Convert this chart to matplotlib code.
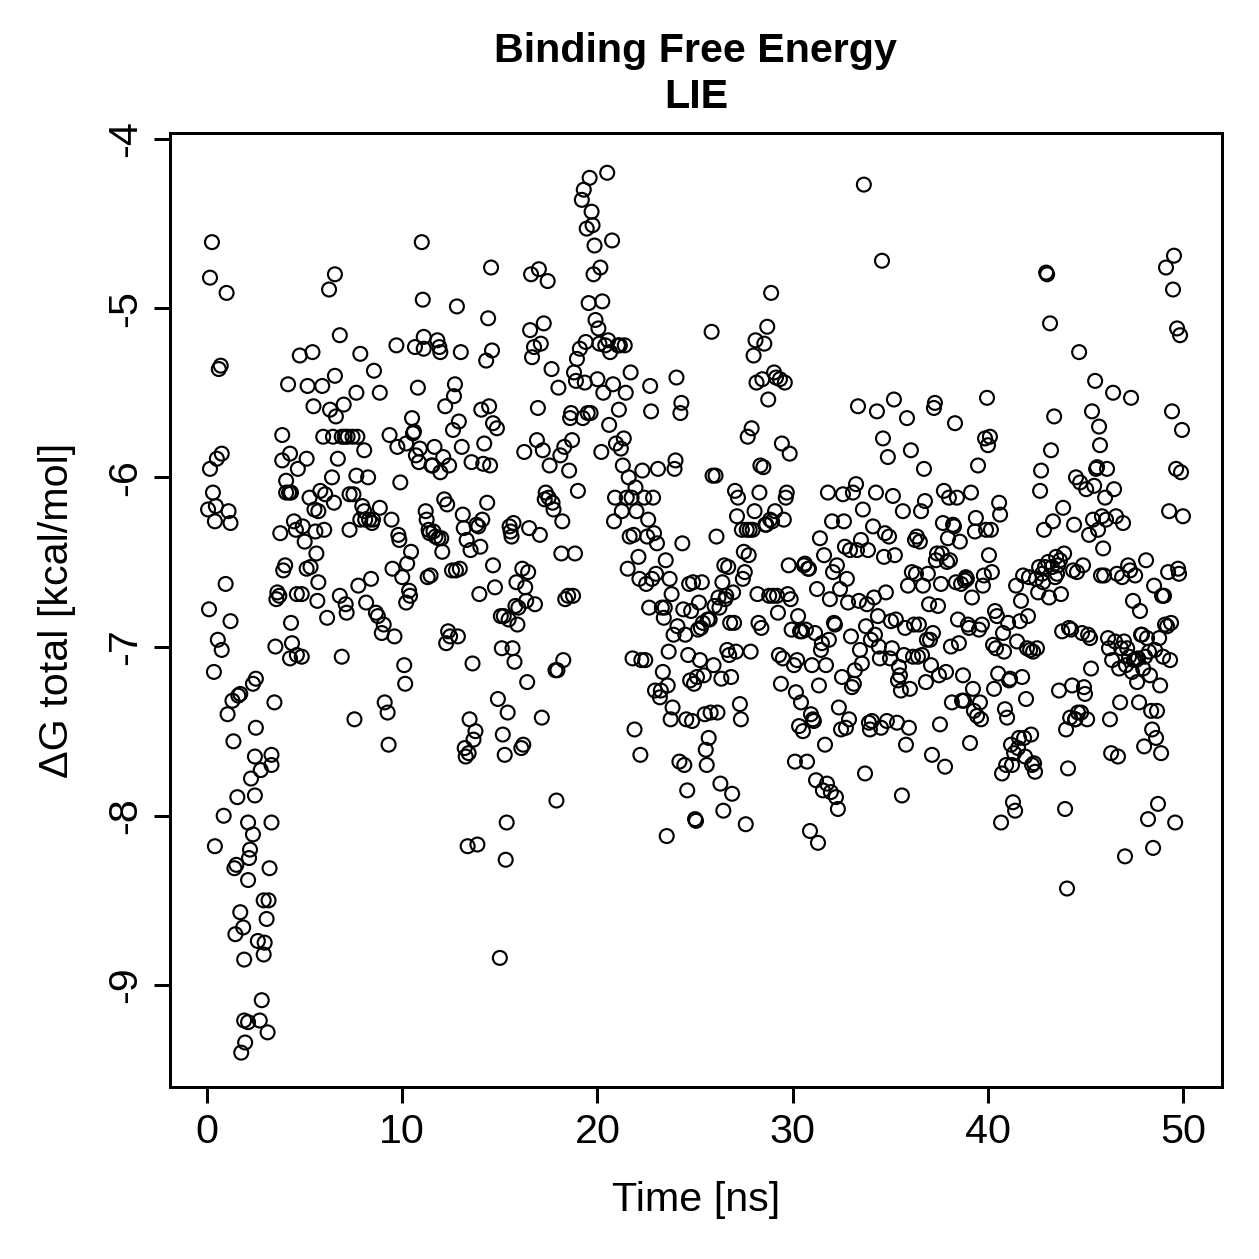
import matplotlib
matplotlib.use("Agg")
import matplotlib.pyplot as plt
import numpy as np

plt.rcParams['font.family'] = ['Liberation Sans', 'DejaVu Sans']

# ---- data: time [ns] and total binding free energy [kcal/mol] ----
t_00_10 = [
    0.15, 0.25, 0.15, 0.05, 0.10, 0.30, 0.35, 0.40, 0.45, 0.55,
    0.60, 0.70, 0.50, 0.75, 0.75, 0.40, 0.85, 0.95, 1.00, 1.05,
    1.10, 1.20, 1.20, 1.30, 1.35, 1.40, 1.50, 1.60, 1.70, 1.55,
    1.45, 1.70, 1.85, 1.75, 1.90, 1.95, 1.90, 2.10, 2.15, 2.10,
    2.20, 2.10, 2.25, 2.35, 2.35, 2.50, 2.45, 2.50, 2.45, 2.60,
    2.70, 2.75, 2.80, 2.90, 2.90, 2.95, 3.05, 3.10, 3.15, 3.20,
    3.30, 3.30, 3.30, 3.45, 3.50, 3.55, 3.60, 3.70, 3.75, 3.85,
    3.85, 3.90, 4.00, 4.05, 4.05, 4.15, 4.20, 4.30, 4.25, 4.30,
    4.25, 4.35, 4.45, 4.55, 4.60, 4.60, 4.65, 4.75, 4.85, 4.85,
    4.90, 5.00, 5.10, 5.10, 5.15, 5.25, 5.30, 5.40, 5.45, 5.50,
    5.55, 5.60, 5.65, 5.70, 5.70, 5.80, 5.90, 5.95, 6.00, 6.05,
    6.15, 6.25, 6.30, 6.40, 6.45, 6.50, 6.55, 6.55, 6.60, 6.70,
    6.80, 6.80, 6.90, 6.90, 7.00, 7.05, 7.10, 7.15, 7.20, 7.30,
    7.30, 7.45, 7.50, 7.55, 7.65, 7.65, 7.70, 7.75, 7.85, 7.85,
    7.95, 8.05, 8.05, 8.10, 8.15, 8.25, 8.30, 8.40, 8.45, 8.50,
    8.55, 8.65, 8.75, 8.85, 8.85, 8.95, 9.05, 9.10, 9.25, 9.30,
    9.35, 9.45, 9.50, 9.60, 9.70, 9.75, 9.80, 9.85, 9.90,
]
g_00_10 = [
    -4.82, -4.61, -5.95, -6.19, -6.78, -6.09, -7.15, -6.26, -6.17, -6.96,
    -5.36, -5.34, -5.89, -5.86, -7.02, -8.18, -8.00, -6.63, -4.91, -7.40,
    -6.20, -6.27, -6.85, -7.32, -7.56, -8.31, -8.29, -7.29, -7.28, -7.89,
    -8.70, -8.57, -8.66, -9.40, -8.85, -9.34, -9.21, -9.22, -8.25, -8.04,
    -8.20, -8.38, -7.78, -8.11, -7.22, -7.19, -7.65, -7.48, -7.88, -8.74,
    -9.21, -7.73, -9.09, -8.82, -8.50, -8.75, -8.61, -9.28, -8.50, -8.31,
    -7.70, -8.04, -7.64, -7.33, -7.00, -6.72, -6.68, -6.70, -6.33, -5.90,
    -5.75, -6.55, -6.52, -6.02, -6.09, -5.45, -6.09, -6.09, -5.86, -6.86,
    -7.07, -6.98, -6.26, -6.31, -6.69, -7.05, -5.95, -5.28, -6.69, -7.06,
    -6.29, -6.38, -6.54, -5.89, -5.46, -6.12, -6.53, -5.26, -5.58, -6.19,
    -6.32, -6.45, -6.73, -6.20, -6.62, -6.08, -5.46, -5.76, -6.31, -6.10,
    -6.83, -4.89, -5.60, -6.00, -5.76, -6.15, -4.80, -5.40, -5.64, -5.89,
    -5.16, -6.70, -7.06, -5.76, -5.57, -5.76, -6.75, -6.80, -5.76, -6.31,
    -6.10, -5.76, -6.10, -7.43, -5.99, -5.50, -5.76, -6.64, -5.27, -6.25,
    -6.17, -5.84, -6.20, -6.25, -6.74, -6.00, -6.25, -6.60, -6.27, -6.25,
    -5.37, -6.80, -6.82, -5.50, -6.18, -6.92, -6.87, -7.33, -7.39, -7.58,
    -5.75, -6.25, -6.54, -6.94, -5.22, -5.82, -6.34, -6.37, -6.03,
]

t_10_20 = [
    10.00, 10.10, 10.15, 10.20, 10.20, 10.25, 10.35, 10.40, 10.45, 10.50,
    10.55, 10.60, 10.65, 10.70, 10.80, 10.85, 10.90, 11.00, 11.05, 11.10,
    11.10, 11.20, 11.25, 11.30, 11.35, 11.40, 11.45, 11.50, 11.55, 11.60,
    11.65, 11.70, 11.80, 11.85, 11.90, 11.95, 11.95, 12.00, 12.05, 12.10,
    12.15, 12.20, 12.25, 12.30, 12.35, 12.40, 12.45, 12.55, 12.60, 12.65,
    12.70, 12.75, 12.80, 12.85, 12.90, 12.95, 13.00, 13.05, 13.10, 13.15,
    13.20, 13.25, 13.30, 13.35, 13.40, 13.45, 13.50, 13.55, 13.60, 13.65,
    13.75, 13.80, 13.85, 13.90, 13.95, 14.00, 14.05, 14.10, 14.15, 14.20,
    14.30, 14.35, 14.40, 14.45, 14.50, 14.55, 14.60, 14.65, 14.65, 14.75,
    14.85, 14.90, 15.00, 15.05, 15.10, 15.15, 15.20, 15.25, 15.30, 15.35,
    15.40, 15.45, 15.50, 15.55, 15.60, 15.65, 15.70, 15.75, 15.80, 15.85,
    15.90, 15.95, 16.10, 16.15, 16.20, 16.25, 16.30, 16.35, 16.40, 16.45,
    16.50, 16.55, 16.60, 16.65, 16.75, 16.80, 16.90, 16.95, 17.00, 17.05,
    17.10, 17.15, 17.20, 17.25, 17.30, 17.35, 17.45, 17.50, 17.55, 17.65,
    17.70, 17.75, 17.85, 17.90, 17.95, 18.00, 18.10, 18.15, 18.20, 18.25,
    18.30, 18.35, 18.50, 18.55, 18.60, 18.65, 18.70, 18.75, 18.80, 18.85,
    18.90, 18.95, 19.00, 19.10, 19.20, 19.25, 19.30, 19.35, 19.40, 19.45,
    19.50, 19.55, 19.60, 19.65, 19.70, 19.75, 19.80, 19.85, 19.90,
]
g_10_20 = [
    -6.59, -7.11, -7.22, -5.80, -6.74, -6.51, -6.67, -6.70, -6.44, -5.65,
    -5.74, -5.73, -5.23, -5.87, -5.47, -5.91, -5.83, -4.61, -4.95, -5.17,
    -5.24, -6.20, -6.25, -6.59, -6.31, -6.33, -6.58, -5.93, -5.93, -6.32,
    -5.82, -6.35, -5.19, -6.36, -5.23, -5.26, -5.97, -6.36, -6.44, -5.88,
    -6.13, -5.58, -6.98, -6.16, -6.91, -5.93, -6.94, -6.55, -5.72, -5.52,
    -5.45, -6.55, -4.99, -6.94, -5.67, -6.54, -5.26, -5.82, -6.22, -6.30,
    -7.60, -7.65, -6.37, -8.18, -7.63, -7.43, -6.43, -5.91, -7.10, -7.55,
    -7.50, -6.28, -8.17, -6.29, -6.69, -6.41, -5.60, -6.25, -5.92, -5.80,
    -5.31, -6.15, -5.06, -5.58, -5.93, -4.76, -5.25, -6.52, -5.68, -6.65,
    -5.71, -7.31, -8.84, -6.82, -7.01, -7.52, -6.82, -7.64, -8.26, -8.04,
    -7.39, -6.84, -6.29, -6.32, -6.35, -7.01, -6.27, -7.09, -6.76, -6.62,
    -6.87, -6.77, -7.60, -6.54, -7.58, -5.85, -6.65, -6.73, -7.21, -6.56,
    -6.30, -5.13, -4.80, -5.29, -5.23, -6.75, -5.78, -5.59, -4.77, -6.34,
    -5.21, -7.42, -5.84, -5.09, -6.13, -6.09, -4.84, -6.12, -5.93, -5.36,
    -6.15, -6.19, -7.14, -7.91, -7.14, -5.47, -5.87, -6.45, -6.26, -7.08,
    -5.82, -6.72, -6.70, -5.96, -5.65, -5.62, -5.78, -6.70, -5.38, -6.45,
    -5.43, -5.30, -6.08, -5.24, -4.36, -5.65, -4.30, -5.44, -5.20, -4.53,
    -5.62, -4.97, -4.23, -5.62, -4.43, -4.51, -4.80, -4.63, -5.07,
]

t_20_30 = [
    20.00, 20.05, 20.10, 20.15, 20.20, 20.25, 20.30, 20.40, 20.50, 20.55,
    20.60, 20.65, 20.75, 20.80, 20.85, 20.90, 20.95, 21.05, 21.10, 21.15,
    21.20, 21.25, 21.30, 21.35, 21.40, 21.45, 21.50, 21.55, 21.60, 21.65,
    21.70, 21.75, 21.80, 21.85, 21.90, 21.95, 22.00, 22.10, 22.15, 22.20,
    22.25, 22.30, 22.40, 22.45, 22.50, 22.55, 22.60, 22.65, 22.70, 22.75,
    22.80, 22.85, 22.90, 22.95, 23.00, 23.05, 23.10, 23.20, 23.25, 23.30,
    23.35, 23.40, 23.45, 23.50, 23.55, 23.60, 23.65, 23.70, 23.75, 23.80,
    23.85, 23.90, 23.95, 24.00, 24.05, 24.10, 24.20, 24.25, 24.30, 24.35,
    24.40, 24.45, 24.50, 24.55, 24.60, 24.65, 24.70, 24.75, 24.80, 24.85,
    24.90, 24.95, 25.00, 25.05, 25.10, 25.15, 25.20, 25.25, 25.30, 25.35,
    25.40, 25.45, 25.50, 25.55, 25.60, 25.65, 25.70, 25.75, 25.80, 25.85,
    25.90, 25.95, 26.00, 26.05, 26.10, 26.15, 26.20, 26.25, 26.30, 26.35,
    26.40, 26.45, 26.50, 26.55, 26.60, 26.65, 26.70, 26.75, 26.80, 26.85,
    26.90, 26.95, 27.00, 27.05, 27.10, 27.15, 27.20, 27.30, 27.35, 27.40,
    27.45, 27.50, 27.55, 27.60, 27.65, 27.70, 27.75, 27.80, 27.85, 27.90,
    27.95, 28.00, 28.05, 28.10, 28.15, 28.20, 28.25, 28.30, 28.35, 28.40,
    28.45, 28.50, 28.55, 28.60, 28.65, 28.70, 28.75, 28.80, 28.85, 28.90,
    28.95, 29.00, 29.05, 29.10, 29.15, 29.20, 29.25, 29.30, 29.35, 29.40,
    29.45, 29.50, 29.55, 29.60, 29.65, 29.70, 29.75, 29.80, 29.85, 29.90,
    29.95,
]
g_20_30 = [
    -5.42, -5.12, -5.21, -4.76, -5.85, -4.96, -5.50, -5.22, -4.20, -5.19,
    -5.69, -5.26, -4.60, -5.45, -6.26, -6.12, -5.80, -5.22, -5.60, -5.22,
    -5.83, -6.20, -5.93, -5.77, -5.22, -5.50, -6.12, -6.54, -6.00, -6.35,
    -5.38, -6.12, -7.07, -6.34, -7.49, -6.06, -6.20, -6.47, -6.60, -7.64,
    -7.08, -5.96, -6.12, -7.08, -6.63, -6.35, -6.25, -6.77, -5.46, -5.61,
    -6.60, -6.12, -6.33, -7.26, -6.57, -6.39, -5.95, -7.30, -7.26, -6.77,
    -7.15, -6.83, -6.77, -6.49, -8.12, -7.23, -7.03, -6.60, -7.43, -6.69,
    -7.36, -6.93, -5.95, -5.90, -5.41, -6.88, -7.68, -5.62, -5.56, -6.39,
    -6.78, -7.70, -6.93, -7.43, -7.85, -7.05, -6.63, -7.20, -6.79, -7.44,
    -6.62, -7.22, -8.02, -8.03, -7.18, -6.90, -6.74, -7.08, -6.89, -6.62,
    -6.86, -7.17, -7.40, -7.61, -7.70, -6.84, -7.54, -6.84, -7.39, -5.14,
    -5.99, -7.11, -6.76, -5.99, -6.35, -7.39, -6.71, -6.77, -7.81, -7.19,
    -6.62, -7.97, -6.52, -6.72, -6.70, -7.02, -6.53, -7.05, -6.86, -7.18,
    -7.87, -6.68, -6.86, -6.08, -7.03, -6.23, -6.12, -7.34, -7.43, -6.31,
    -6.60, -6.44, -6.56, -8.05, -6.31, -5.76, -6.46, -6.31, -7.03, -5.71,
    -6.31, -5.28, -6.20, -5.19, -5.44, -6.69, -6.86, -6.09, -5.93, -6.89,
    -5.42, -5.94, -5.21, -6.28, -6.28, -5.11, -5.54, -6.70, -6.25, -4.91,
    -6.26, -6.70, -5.38, -6.20, -5.41, -6.70, -6.80, -7.05, -5.42, -7.22,
    -5.80, -7.07, -6.25, -5.44, -6.12, -6.09, -6.69, -6.52, -5.86, -6.72,
    -6.90,
]

t_30_40 = [
    30.07, 30.12, 30.17, 30.23, 30.28, 30.33, 30.38, 30.43, 30.48, 30.53,
    30.58, 30.63, 30.68, 30.74, 30.79, 30.84, 30.89, 30.94, 30.99, 31.04,
    31.09, 31.15, 31.20, 31.25, 31.30, 31.35, 31.40, 31.45, 31.50, 31.55,
    31.61, 31.66, 31.71, 31.76, 31.81, 31.86, 31.91, 31.96, 32.02, 32.07,
    32.12, 32.17, 32.22, 32.27, 32.32, 32.37, 32.43, 32.48, 32.53, 32.58,
    32.63, 32.68, 32.73, 32.78, 32.84, 32.89, 32.94, 32.99, 33.04, 33.09,
    33.14, 33.19, 33.25, 33.30, 33.35, 33.40, 33.45, 33.50, 33.55, 33.60,
    33.65, 33.71, 33.76, 33.81, 33.86, 33.91, 33.96, 34.01, 34.06, 34.12,
    34.17, 34.22, 34.27, 34.32, 34.37, 34.42, 34.47, 34.53, 34.58, 34.63,
    34.68, 34.73, 34.78, 34.83, 34.88, 34.94, 34.99, 35.04, 35.09, 35.14,
    35.19, 35.24, 35.29, 35.35, 35.40, 35.45, 35.50, 35.55, 35.60, 35.65,
    35.70, 35.76, 35.81, 35.86, 35.91, 35.96, 36.01, 36.06, 36.11, 36.17,
    36.22, 36.27, 36.32, 36.37, 36.42, 36.47, 36.52, 36.58, 36.63, 36.68,
    36.73, 36.78, 36.83, 36.88, 36.93, 36.99, 37.04, 37.09, 37.14, 37.19,
    37.24, 37.29, 37.34, 37.40, 37.45, 37.50, 37.55, 37.60, 37.65, 37.70,
    37.75, 37.81, 37.86, 37.91, 37.96, 38.01, 38.06, 38.11, 38.16, 38.22,
    38.27, 38.32, 38.37, 38.42, 38.47, 38.52, 38.57, 38.63, 38.68, 38.73,
    38.78, 38.83, 38.88, 38.93, 38.98, 39.04, 39.09, 39.14, 39.19, 39.24,
    39.29, 39.34, 39.39, 39.45, 39.50, 39.55, 39.60, 39.65, 39.70, 39.75,
    39.80, 39.86, 39.91, 39.96, 40.01, 40.06, 40.11, 40.16, 40.21,
]
g_30_40 = [
    -7.11, -7.68, -7.27, -7.08, -6.82, -7.47, -6.91, -7.33, -6.91, -7.50,
    -6.52, -6.51, -6.90, -7.68, -6.54, -6.54, -8.09, -7.40, -7.11, -7.43,
    -7.44, -6.92, -7.79, -6.66, -8.16, -7.23, -6.36, -7.02, -6.98, -7.85,
    -6.46, -7.58, -7.11, -7.81, -6.09, -6.96, -6.72, -7.86, -6.26, -6.56,
    -6.86, -6.87, -7.89, -6.52, -7.96, -7.36, -6.66, -7.49, -7.18, -6.10,
    -6.26, -6.41, -7.48, -6.60, -6.74, -7.43, -6.43, -6.94, -7.24, -6.09,
    -7.22, -7.14, -6.04, -6.43, -5.58, -6.73, -7.02, -6.37, -7.10, -6.19,
    -4.27, -7.75, -6.88, -6.75, -6.43, -7.45, -7.49, -6.96, -7.44, -6.29,
    -6.71, -6.93, -6.09, -5.61, -6.82, -7.00, -7.07, -7.48, -4.72, -5.77,
    -6.47, -6.33, -6.68, -7.44, -5.88, -6.35, -7.07, -6.85, -7.01, -6.11,
    -5.54, -6.46, -6.84, -7.45, -7.20, -7.12, -7.17, -7.26, -7.88, -6.20,
    -7.05, -6.89, -7.58, -5.65, -6.64, -7.48, -7.25, -5.84, -6.56, -7.06,
    -6.87, -6.37, -6.57, -6.35, -7.06, -6.87, -6.38, -6.20, -7.05, -6.64,
    -5.95, -6.14, -7.21, -6.96, -6.57, -6.75, -6.96, -7.11, -7.64, -6.92,
    -5.59, -5.56, -6.49, -6.45, -6.76, -7.17, -7.46, -6.63, -6.45, -6.27,
    -6.08, -7.71, -7.15, -6.50, -6.36, -6.12, -6.49, -7.00, -7.33, -6.28,
    -6.29, -5.68, -6.62, -6.12, -6.84, -6.98, -6.38, -6.63, -7.32, -7.17,
    -7.32, -6.61, -6.59, -6.60, -6.87, -6.89, -7.57, -6.09, -6.71, -7.25,
    -7.38, -6.32, -6.24, -7.41, -5.93, -6.90, -7.33, -7.43, -6.87, -6.64,
    -6.58, -5.77, -6.31, -5.53, -5.81, -6.46, -5.76, -6.31, -6.56,
]

t_40_50 = [
    40.27, 40.32, 40.37, 40.42, 40.47, 40.53, 40.58, 40.63, 40.68, 40.73,
    40.78, 40.83, 40.88, 40.94, 40.99, 41.04, 41.09, 41.14, 41.19, 41.24,
    41.29, 41.35, 41.40, 41.45, 41.50, 41.55, 41.60, 41.65, 41.70, 41.76,
    41.81, 41.86, 41.91, 41.96, 42.01, 42.06, 42.11, 42.17, 42.22, 42.27,
    42.32, 42.37, 42.42, 42.47, 42.52, 42.58, 42.63, 42.68, 42.73, 42.78,
    42.83, 42.88, 42.93, 42.99, 43.04, 43.09, 43.14, 43.19, 43.24, 43.29,
    43.34, 43.40, 43.45, 43.50, 43.55, 43.60, 43.65, 43.70, 43.75, 43.81,
    43.86, 43.91, 43.96, 44.01, 44.06, 44.11, 44.16, 44.22, 44.27, 44.32,
    44.37, 44.42, 44.47, 44.49, 44.52, 44.57, 44.62, 44.68, 44.73, 44.78,
    44.83, 44.88, 44.93, 44.98, 45.04, 45.09, 45.14, 45.19, 45.24, 45.29,
    45.34, 45.39, 45.45, 45.50, 45.55, 45.60, 45.65, 45.70, 45.75, 45.80,
    45.85, 45.91, 45.96, 46.01, 46.06, 46.11, 46.16, 46.21, 46.26, 46.32,
    46.37, 46.42, 46.47, 46.52, 46.57, 46.62, 46.67, 46.73, 46.78, 46.83,
    46.88, 46.93, 46.98, 47.03, 47.08, 47.14, 47.19, 47.24, 47.29, 47.34,
    47.39, 47.44, 47.49, 47.55, 47.60, 47.65, 47.70, 47.75, 47.80, 47.85,
    47.90, 47.96, 48.01, 48.06, 48.11, 48.16, 48.21, 48.26, 48.31, 48.37,
    48.42, 48.47, 48.52, 48.57, 48.62, 48.67, 48.72, 48.78, 48.83, 48.88,
    48.93, 48.98, 49.03, 49.08, 49.13, 49.19, 49.24, 49.29, 49.34, 49.39,
    49.44, 49.49, 49.54, 49.60, 49.65, 49.70, 49.75, 49.80, 49.85, 49.90,
    49.95, 50.00,
]
g_40_50 = [
    -6.99, -7.25, -6.79, -7.01, -6.82, -7.16, -6.15, -6.22, -8.04, -7.75,
    -6.92, -7.03, -7.37, -7.70, -7.42, -6.86, -7.20, -7.19, -7.58, -7.70,
    -7.92, -7.63, -7.97, -6.64, -6.97, -7.60, -7.54, -6.85, -6.73, -7.18,
    -6.58, -7.54, -7.65, -7.31, -7.01, -6.82, -6.59, -7.02, -7.52, -7.70,
    -7.03, -7.69, -7.74, -6.60, -7.01, -6.68, -6.53, -6.08, -5.96, -6.57,
    -6.62, -6.31, -6.53, -4.79, -4.80, -6.50, -6.71, -5.09, -5.84, -6.53,
    -6.26, -5.64, -6.59, -6.47, -6.57, -6.52, -7.26, -6.49, -6.69, -6.91,
    -6.18, -6.45, -7.96, -7.49, -8.43, -7.72, -6.89, -7.42, -6.90, -7.23,
    -6.55, -6.28, -7.43, -7.43, -6.00, -6.56, -7.39, -5.26, -6.03, -7.39,
    -6.92, -6.52, -7.24, -7.28, -6.07, -7.43, -6.93, -6.34, -6.95, -7.13,
    -5.61, -6.25, -6.05, -5.43, -5.95, -5.94, -6.31, -5.70, -5.81, -6.58,
    -6.23, -6.42, -6.58, -6.12, -6.25, -5.95, -6.95, -7.01, -7.43, -7.63,
    -7.08, -5.50, -6.07, -6.97, -6.23, -6.57, -7.65, -7.13, -7.33, -7.01,
    -6.59, -6.27, -6.97, -8.24, -7.11, -7.01, -6.52, -7.06, -6.55, -5.53,
    -7.15, -6.73, -7.08, -6.58, -7.08, -7.21, -7.07, -7.33, -6.79, -6.93,
    -6.93, -7.13, -7.59, -7.06, -6.49, -6.95, -8.02, -7.03, -7.17, -7.38,
    -7.49, -8.19, -6.64, -7.02, -7.54, -7.38, -7.93, -6.95, -7.23, -7.63,
    -6.70, -7.06, -6.70, -6.87, -4.76, -6.88, -6.56, -6.20, -7.08, -6.86,
    -5.61, -4.89, -4.69, -8.04, -5.95, -5.12, -6.54, -6.57, -5.16, -5.97,
    -5.72, -6.23,
]

x_ticks = [0, 10, 20, 30, 40, 50]
y_ticks = [-4, -5, -6, -7, -8, -9]
title_text = "Binding Free Energy\nLIE"
x_label = "Time [ns]"
y_label = "\u0394G total [kcal/mol]"

time_ns = np.concatenate([t_00_10, t_10_20, t_20_30, t_30_40, t_40_50])
dg_total = np.concatenate([g_00_10, g_10_20, g_20_30, g_30_40, g_40_50])
n = min(len(time_ns), len(dg_total))
time_ns, dg_total = time_ns[:n], dg_total[:n]

W = H = 1259
DPI = 180
FS = 16.5
fig = plt.figure(figsize=(W / DPI, H / DPI), dpi=DPI)
ax = fig.add_axes([170 / W, 1 - 1087 / H, (1222 - 170) / W, (1087 - 133) / H])

ax.scatter(time_ns, dg_total, s=31, facecolors='none', edgecolors='black',
           linewidths=0.85)

ax.set_xlim(-1.9, 52.0)
ax.set_ylim(-9.603, -3.965)
ax.set_xticks(x_ticks)
ax.set_xticklabels([str(v) for v in x_ticks])
ax.set_yticks(y_ticks)
ax.set_yticklabels([str(v) for v in y_ticks], rotation=90, va='center')

for s in ax.spines.values():
    s.set_linewidth(1.2)
ax.tick_params(direction='out', length=6.4, width=1.2, labelsize=FS, pad=4)

ax.set_xlabel(x_label, fontsize=FS, labelpad=12)
ax.set_ylabel(y_label, fontsize=FS, labelpad=12)
ax.set_title(title_text, fontsize=FS, fontweight='bold', pad=10, linespacing=1.25)

fig.savefig("out.png", dpi=DPI)
